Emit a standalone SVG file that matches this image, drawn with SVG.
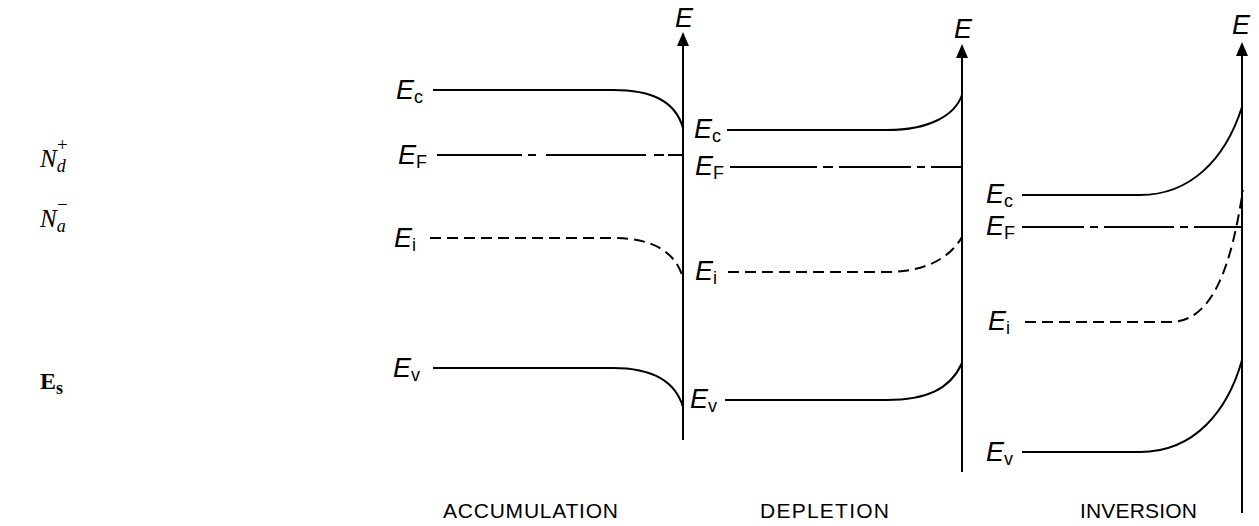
<svg xmlns="http://www.w3.org/2000/svg" width="1259" height="526" viewBox="0 0 1259 526">
<style>
.ln{fill:none;stroke:#000;stroke-width:2}
.ax{fill:none;stroke:#000;stroke-width:2}
.ah{fill:#000;stroke:none}
.dash{stroke-dasharray:11 6}
.E{font-family:"Liberation Sans",Arial,sans-serif;font-style:italic;font-size:27px;fill:#000}
.sub{font-family:"Liberation Sans",Arial,sans-serif;font-style:normal;font-size:18px;fill:#000}
.ser{font-family:"Liberation Serif","Times New Roman",serif;fill:#000}
.cap{font-family:"Liberation Sans",Arial,sans-serif;font-size:21px;fill:#000}
</style>
<g id="legend">
<text class="ser" x="40" y="167" font-size="25" font-style="italic">N<tspan font-size="18" dy="5">d</tspan></text>
<text class="ser" x="57" y="151" font-size="19">+</text>
<text class="ser" x="40" y="227" font-size="25" font-style="italic">N<tspan font-size="18" dy="5">a</tspan></text>
<text class="ser" x="57" y="211" font-size="19">−</text>
<text class="ser" x="40" y="389" font-size="24" font-weight="bold">E<tspan font-size="18" dy="5">s</tspan></text>
</g>
<g id="accumulation">
<line class="ax" x1="683" y1="440" x2="683" y2="44"/>
<polygon class="ah" points="683,32 677,46 689,46"/>
<text class="E" x="675" y="27" font-size="29">E</text>
<text class="E" x="396" y="99">E<tspan class="sub" dy="4">c</tspan></text>
<path class="ln" d="M433,90 H613 C650,90 675,100 683,128"/>
<text class="E" x="398" y="164">E<tspan class="sub" dy="4">F</tspan></text>
<path class="ln" d="M437,155 H683" stroke-dasharray="85 6 8 10 100 8 10 4 30"/>
<text class="E" x="394" y="247">E<tspan class="sub" dy="4">i</tspan></text>
<path class="ln dash" d="M430,238 H613 C650,238 675,250 683,278"/>
<text class="E" x="393" y="377">E<tspan class="sub" dy="4">v</tspan></text>
<path class="ln" d="M433,368 H613 C650,368 675,380 683,407"/>
<text class="cap" x="443" y="518" textLength="175" lengthAdjust="spacing">ACCUMULATION</text>
</g>
<g id="depletion">
<line class="ax" x1="962" y1="472" x2="962" y2="56"/>
<polygon class="ah" points="962,44 956,58 968,58"/>
<text class="E" x="954" y="38" font-size="29">E</text>
<text class="E" x="694" y="138">E<tspan class="sub" dy="4">c</tspan></text>
<path class="ln" d="M727,130 H887 C930,130 955,115 962,95"/>
<text class="E" x="695" y="175">E<tspan class="sub" dy="4">F</tspan></text>
<path class="ln" d="M730,167 H962" stroke-dasharray="87 6 10 6 72 6 8 6 40"/>
<text class="E" x="695" y="280">E<tspan class="sub" dy="4">i</tspan></text>
<path class="ln dash" d="M728,272 H887 C925,272 950,258 962,237"/>
<text class="E" x="690" y="408">E<tspan class="sub" dy="4">v</tspan></text>
<path class="ln" d="M725,400 H887 C925,400 950,390 962,363"/>
<text class="cap" x="760" y="518" textLength="129" lengthAdjust="spacing">DEPLETION</text>
</g>
<g id="inversion">
<line class="ax" x1="1242" y1="513" x2="1242" y2="54"/>
<polygon class="ah" points="1242,42 1236,56 1248,56"/>
<text class="E" x="1232" y="34" font-size="29">E</text>
<text class="E" x="986" y="203">E<tspan class="sub" dy="4">c</tspan></text>
<path class="ln" d="M1022,195 H1140 C1190,195 1225,160 1242,107"/>
<text class="E" x="986" y="235">E<tspan class="sub" dy="4">F</tspan></text>
<path class="ln" d="M1022,227 H1242" stroke-dasharray="62 6 8 6 70 6 8 6 60"/>
<text class="E" x="988" y="330">E<tspan class="sub" dy="4">i</tspan></text>
<path class="ln dash" d="M1025,322 H1170 C1215,322 1232,260 1243,190"/>
<text class="E" x="986" y="461">E<tspan class="sub" dy="4">v</tspan></text>
<path class="ln" d="M1022,452 H1140 C1195,452 1228,410 1242,360"/>
<text class="cap" x="1080" y="518" textLength="117" lengthAdjust="spacing">INVERSION</text>
</g>
</svg>
